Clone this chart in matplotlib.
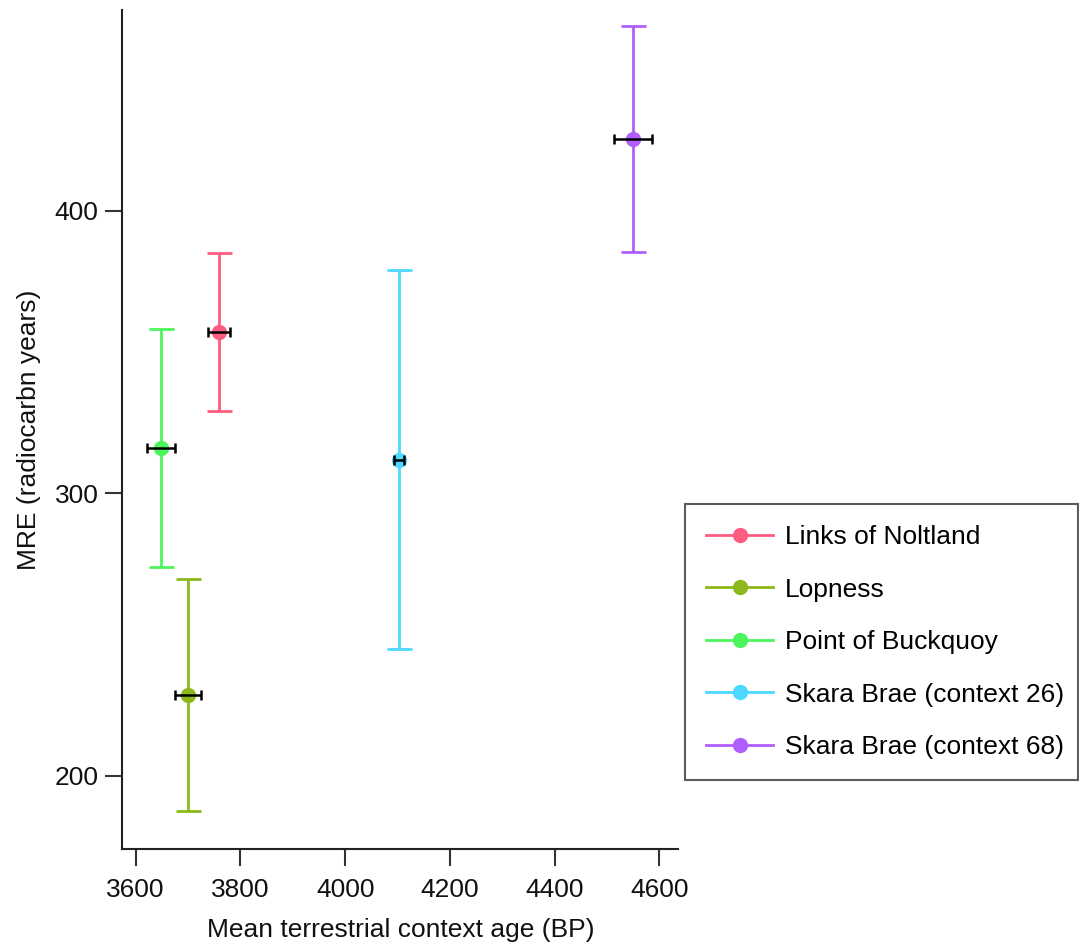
import matplotlib
matplotlib.use("Agg")
import matplotlib.pyplot as plt
from matplotlib.lines import Line2D

plt.rcParams['font.family'] = ['Liberation Sans', 'DejaVu Sans']

sites = ["Links of Noltland", "Lopness", "Point of Buckquoy",
         "Skara Brae (context 26)", "Skara Brae (context 68)"]
age = [3760, 3700, 3648, 4103, 4550]
age_err = [21, 25, 27, 9, 37]
mre = [357, 228.6, 316, 311.8, 425.3]
mre_err = [28, 41, 42, 67, 40]
colors = ["#FF5C80", "#8DB81C", "#4CF55C", "#4DD8FF", "#B15EFF"]

xticks = [3600, 3800, 4000, 4200, 4400, 4600]
yticks = [200, 300, 400]

W, H = 1079, 947
fig = plt.figure(figsize=(W / 100, H / 100), dpi=100)
ax = fig.add_axes([122.3 / W, 1 - 849.3 / H, (678.3 - 122.3) / W, (849.3 - 10) / H])

for x, xe, y, ye, c in zip(age, age_err, mre, mre_err, colors):
    ax.errorbar(x, y, yerr=ye, fmt='none', ecolor=c, elinewidth=2.0,
                capsize=9, capthick=2.0, zorder=2)
    ax.plot(x, y, 'o', color=c, markersize=10, zorder=3)
    ax.errorbar(x, y, xerr=xe, fmt='none', ecolor='black', elinewidth=1.8,
                capsize=3.6, capthick=1.8, zorder=4)

ax.set_xlim(3574.4, 4636.3)
ax.set_ylim(173.9, 471.0)
ax.set_xticks(xticks)
ax.set_yticks(yticks)
for s in ['top', 'right']:
    ax.spines[s].set_visible(False)
for s in ['left', 'bottom']:
    ax.spines[s].set_linewidth(1.5)
    ax.spines[s].set_color('#222222')
ax.tick_params(axis='both', length=12, width=1.5, color='#333333',
               labelsize=19, labelcolor='#111111')
ax.tick_params(axis='x', pad=9)
ax.tick_params(axis='y', pad=5)
ax.set_xlabel("Mean terrestrial context age (BP)", fontsize=19, color='#111111', labelpad=11)
ax.set_ylabel("MRE (radiocarbn years)", fontsize=19, color='#111111', labelpad=10)

handles = [Line2D([0], [0], color=c, lw=2.0, marker='o', markersize=10) for c in colors]
leg = fig.legend(handles, sites, loc='upper left',
                 bbox_to_anchor=(685 / W, 1 - 504 / H, (1078 - 685) / W, 0),
                 mode='expand', fontsize=19, frameon=True, fancybox=False,
                 handlelength=2.55, handletextpad=0.45, labelspacing=1.08,
                 borderpad=0.8, borderaxespad=0)
leg.get_frame().set_edgecolor('#333333')
leg.get_frame().set_linewidth(1.5)

fig.savefig("out.png", dpi=100)
